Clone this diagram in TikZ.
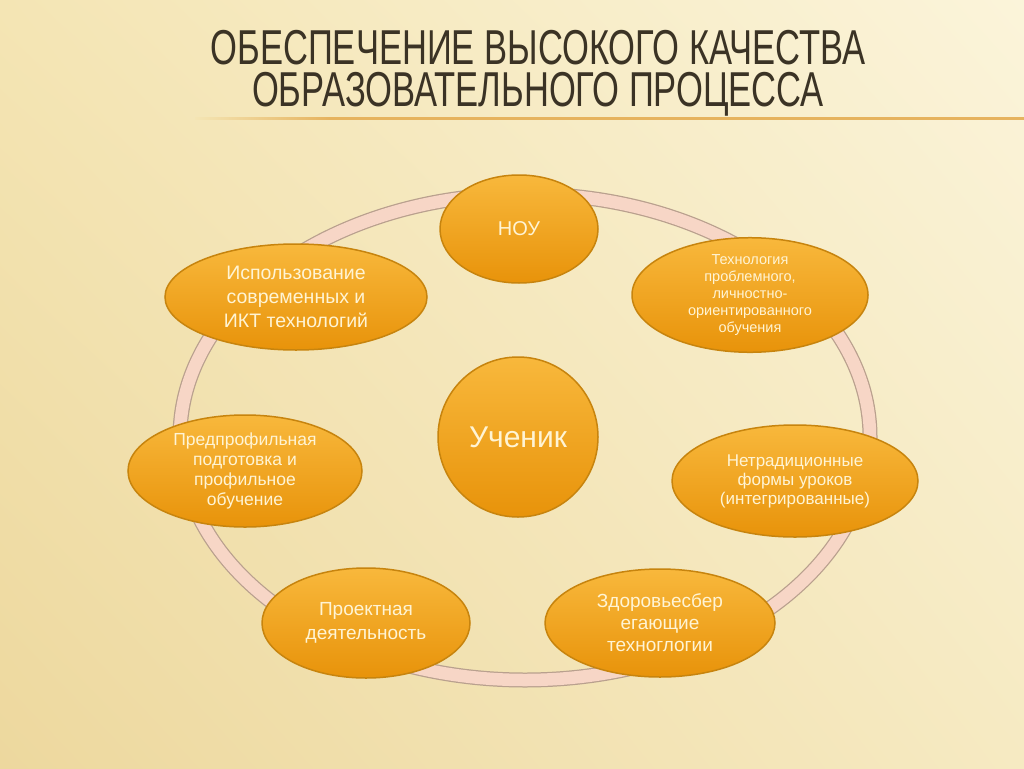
\documentclass[tikz,border=0pt]{standalone}
\usepackage{fontspec}
\setmainfont{Liberation Sans}
\newfontfamily\titlefont[FakeStretch=0.705]{Liberation Sans}
\usetikzlibrary{shapes.geometric,shadings}

\definecolor{bgul}{HTML}{F4E5B4}
\definecolor{bgur}{HTML}{FBF4DA}
\definecolor{bgll}{HTML}{EDD89E}
\definecolor{bglr}{HTML}{F6EAC2}
\definecolor{ringpink}{HTML}{F7D6C6}
\definecolor{ringedge}{HTML}{B9A08E}
\definecolor{orangetop}{HTML}{F8B83C}
\definecolor{orangebot}{HTML}{E8930A}
\definecolor{orangeedge}{HTML}{C7840E}
\definecolor{labeltext}{HTML}{FFF4D4}
\definecolor{titletext}{HTML}{3B3325}
\definecolor{ruleline}{HTML}{E6B35E}

\begin{document}
\begin{tikzpicture}[x=1pt, y=-1pt,
    blob/.style={ellipse, draw=orangeedge, line width=1.5pt, top color=orangetop,
      bottom color=orangebot, inner sep=0pt, align=center, text=labeltext},
    heading/.style={anchor=north, inner sep=0pt, align=center, text=titletext,
      font=\titlefont\fontsize{49}{42}\selectfont}]
        % background
        \shade [upper left=bgul, upper right=bgur, lower left=bgll, lower right=bglr] (0,0) rectangle (1024,768);

        % title
        \node [heading] (heading) at (538,30.5) {ОБЕСПЕЧЕНИЕ ВЫСОКОГО КАЧЕСТВА\\ОБРАЗОВАТЕЛЬНОГО ПРОЦЕССА};
        \fill [left color=bgul, right color=ruleline] (195,117) rectangle (330,119.5);
        \fill [ruleline] (330,117) rectangle (1024,119.5);

        % ring
        \draw [ringedge, line width=15pt] (525,437) ellipse [x radius=345, y radius=243];
        \draw [ringpink, line width=12.5pt] (525,437) ellipse [x radius=345, y radius=243];

        % centre
        \node [blob, circle, minimum size=160pt, font=\fontsize{30}{34}\selectfont] (pupil) at (518,437) {Ученик};

        % outer ring of methods
        \node [blob, minimum width=158pt, minimum height=108pt, font=\fontsize{20}{24}\selectfont]
          (nou) at (519,229) {НОУ};
        \node [blob, minimum width=236pt, minimum height=108pt, font=\fontsize{14.5}{17}\selectfont]
          (problem) at (750,295) {Технология\\проблемного,\\личностно-\\ориентированного\\обучения};
        \node [blob, minimum width=246pt, minimum height=112pt, font=\fontsize{17}{19}\selectfont]
          (lessons) at (795,481) {Нетрадиционные\\формы уроков\\(интегрированные)};
        \node [blob, minimum width=230pt, minimum height=108pt, font=\fontsize{19}{22}\selectfont]
          (health) at (660,623) {Здоровьесбер\\егающие\\техноглогии};
        \node [blob, minimum width=208pt, minimum height=110pt, font=\fontsize{19}{24}\selectfont]
          (project) at (366,623) {Проектная\\деятельность};
        \node [blob, minimum width=234pt, minimum height=112pt, font=\fontsize{17.5}{20}\selectfont]
          (profile) at (245,471) {Предпрофильная\\подготовка и\\профильное\\обучение};
        \node [blob, minimum width=262pt, minimum height=106pt, font=\fontsize{19.5}{24}\selectfont]
          (ict) at (296,297) {Использование\\современных и\\ИКТ технологий};
    \end{tikzpicture}
\end{document}
